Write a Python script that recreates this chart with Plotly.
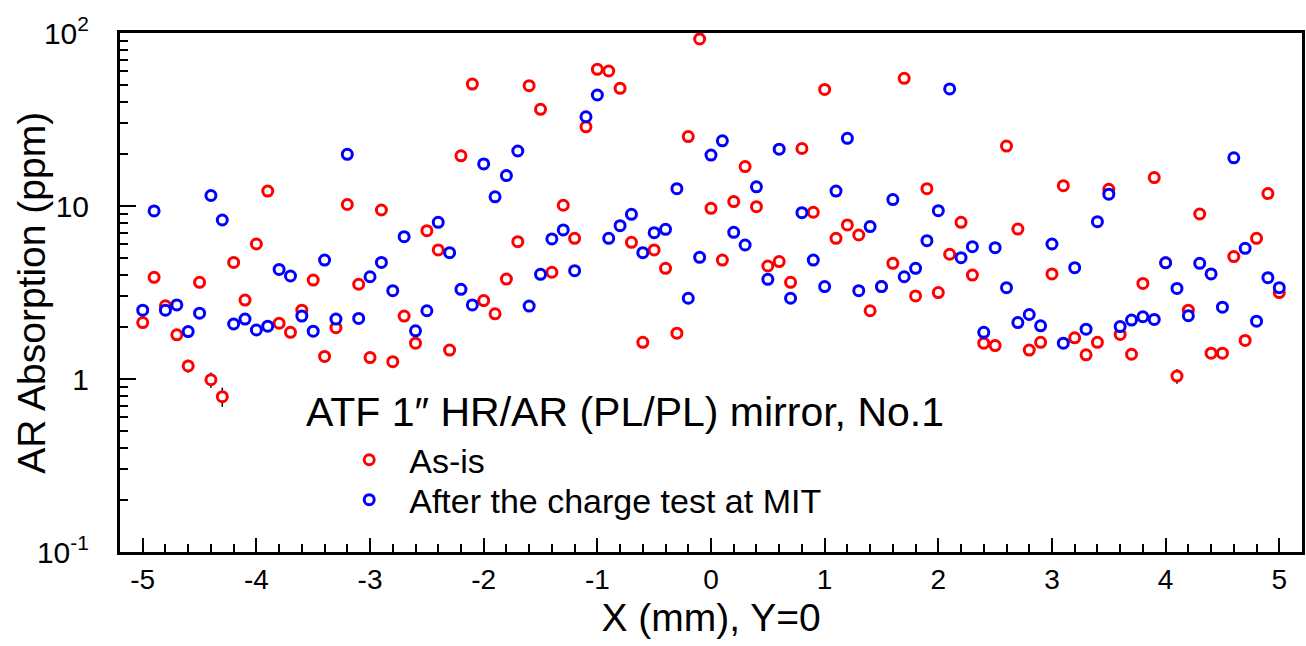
import plotly.graph_objects as go

# scan positions along X (mm), Y=0
x_mm = [round(-5 + 0.1 * i, 1) for i in range(101)]

# AR absorption (ppm)
as_is = [
    2.12, 3.87, 2.65, 1.80, 1.19, 3.62, 0.99, 0.79, 4.72, 2.86,
    6.03, 12.2, 2.10, 1.86, 2.50, 3.73, 1.35, 1.98, 10.2, 3.53,
    1.33, 9.48, 1.26, 2.31, 1.61, 7.20, 5.57, 1.47, 19.5, 50.7,
    2.84, 2.38, 3.78, 6.22, 49.6, 36.2, 4.14, 10.1, 6.50, 28.7,
    61.7, 60.3, 47.9, 6.17, 1.63, 5.57, 4.36, 1.84, 25.2, 92.3,
    9.70, 4.87, 10.6, 16.9, 9.91, 4.50, 4.77, 3.62, 21.5, 9.20,
    47.2, 6.50, 7.77, 6.80, 2.48, 3.42, 4.66, 54.7, 3.02, 12.6,
    3.16, 5.26, 8.05, 3.99, 1.61, 1.56, 22.2, 7.36, 1.47, 1.63,
    4.05, 13.1, 1.73, 1.38, 1.63, 12.5, 1.81, 1.39, 3.57, 14.6,
    4.70, 1.04, 2.50, 8.99, 1.41, 1.41, 5.10, 1.67, 6.50, 11.8,
    3.16,
]
after_mit = [
    2.50, 9.36, 2.50, 2.68, 1.88, 2.40, 11.5, 8.30, 2.08, 2.22,
    1.92, 2.02, 4.30, 3.94, 2.31, 1.89, 4.87, 2.22, 19.9, 2.24,
    3.90, 4.72, 3.24, 6.65, 1.90, 2.48, 8.05, 5.37, 3.30, 2.68,
    17.5, 11.3, 15.0, 20.8, 2.64, 4.03, 6.45, 7.27, 4.23, 32.8,
    43.8, 6.50, 7.70, 8.95, 5.37, 7.01, 7.33, 12.6, 2.93, 5.05,
    19.7, 23.8, 7.04, 5.95, 12.9, 3.77, 21.3, 2.93, 9.15, 4.87,
    3.42, 12.2, 24.6, 3.24, 7.60, 3.42, 10.9, 3.90, 4.36, 6.30,
    9.40, 47.5, 5.03, 5.82, 1.86, 5.74, 3.37, 2.12, 2.36, 2.03,
    6.03, 1.61, 4.40, 1.94, 8.12, 11.7, 2.01, 2.19, 2.29, 2.21,
    4.70, 3.34, 2.32, 4.66, 4.05, 2.60, 19.0, 5.69, 2.16, 3.85,
    3.37,
]
err_ppm = 0.1

x_ticks = [-5, -4, -3, -2, -1, 0, 1, 2, 3, 4, 5]
x_labels = [str(v) for v in x_ticks]
y_ticks = [0.1, 1, 10, 100]
y_labels = ["10<sup>-1</sup>", "1", "10", "10<sup>2</sup>"]

FONT = "Liberation Sans, Arial, sans-serif"

fig = go.Figure()
series = [("As-is", as_is, "#ff0000", "legend"),
          ("After the charge test at MIT", after_mit, "#0000ff", "legend2")]
for name, vals, color, leg in series:
    fig.add_trace(go.Scatter(
        x=x_mm, y=vals, mode="markers", name=name, legend=leg, showlegend=True,
        marker=dict(symbol="circle", size=10, color="white",
                    line=dict(color=color, width=3)),
        error_y=dict(type="constant", value=err_ppm, color="black",
                     thickness=1.5, width=0),
    ))

fig.add_annotation(
    text="ATF 1\u2033 HR/AR (PL/PL) mirror, No.1",
    xref="paper", yref="paper", x=0.156, y=0.27,
    xanchor="left", yanchor="middle", showarrow=False,
    font=dict(size=41, color="black", family=FONT),
)
fig.add_annotation(
    text="AR Absorption (ppm)", textangle=-90,
    xref="paper", yref="paper", x=-0.075, y=0.5,
    xanchor="center", yanchor="middle", showarrow=False,
    font=dict(size=39, color="black", family=FONT),
)

leg_style = dict(x=0.177, xanchor="left", yanchor="middle", itemwidth=70,
                 bgcolor="rgba(0,0,0,0)", font=dict(size=34), visible=True)

fig.update_layout(
    width=1306, height=646,
    margin=dict(l=120, r=1, t=33, b=94),
    plot_bgcolor="white", paper_bgcolor="white",
    font=dict(family=FONT, color="black"),
    showlegend=True,
    legend=dict(y=0.177, **leg_style),
    legend2=dict(y=0.100, **leg_style),
    xaxis=dict(
        range=[-5.2, 5.2], tickvals=x_ticks, ticktext=x_labels,
        ticks="inside", ticklen=14, tickwidth=2, tickcolor="black",
        minor=dict(ticks="inside", ticklen=8, dtick=0.2, tickwidth=2, tickcolor="black"),
        showline=True, linewidth=3, linecolor="black", mirror=True,
        showgrid=False, zeroline=False, tickfont=dict(size=28),
        title=dict(text="X (mm), Y=0", font=dict(size=39), standoff=11),
    ),
    yaxis=dict(
        type="log", range=[-1, 2], tickvals=y_ticks, ticktext=y_labels,
        ticks="inside", ticklen=16, tickwidth=2, tickcolor="black",
        minor=dict(ticks="inside", ticklen=8, dtick="D1", tickwidth=2, tickcolor="black"),
        showline=True, linewidth=3, linecolor="black", mirror=True,
        showgrid=False, zeroline=False, tickfont=dict(size=30),
        ticklabelstandoff=22,
    ),
)

fig.write_html("out.html", config={"displayModeBar": False},
               post_script="document.body.style.margin='0px';")
